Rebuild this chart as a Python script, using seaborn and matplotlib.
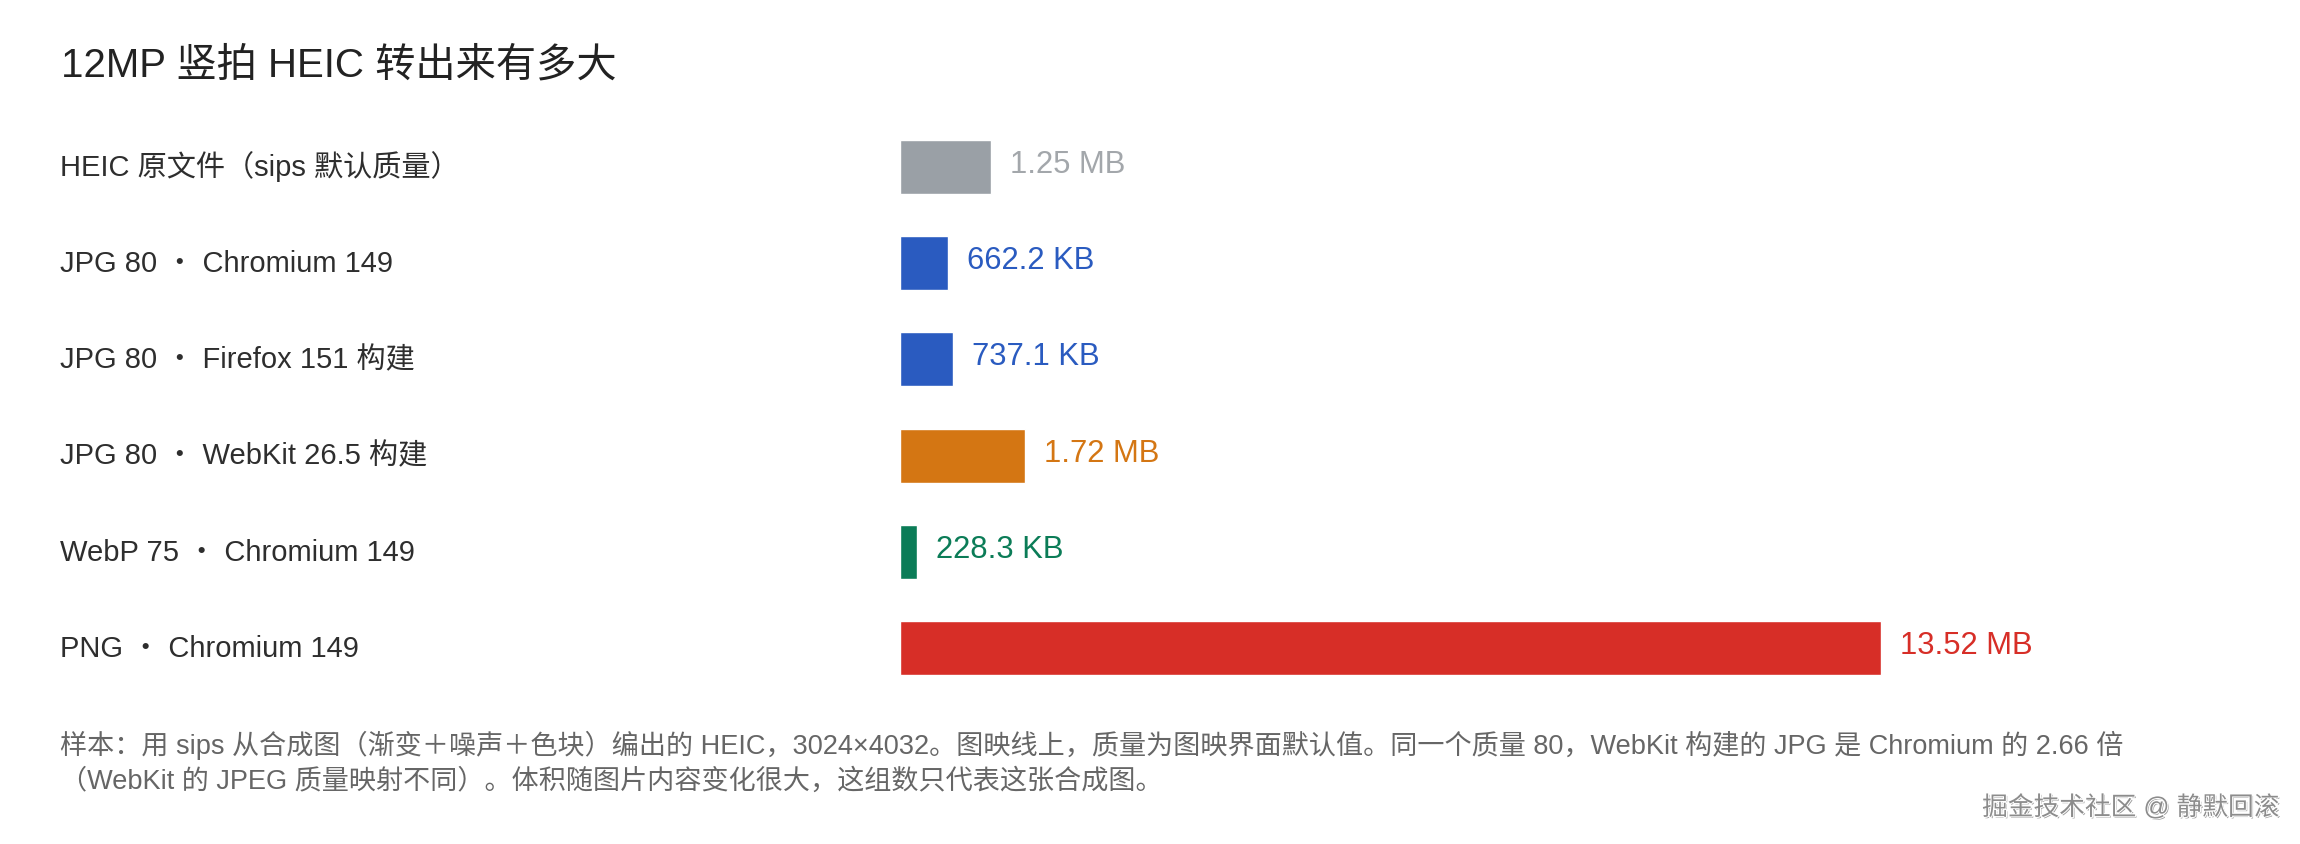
import matplotlib
matplotlib.use("Agg")
import matplotlib.pyplot as plt
import matplotlib.patheffects as pe
import seaborn as sns

# 数据
labels = [
    "HEIC 原文件（sips 默认质量）",
    "JPG 80 ・ Chromium 149",
    "JPG 80 ・ Firefox 151 构建",
    "JPG 80 ・ WebKit 26.5 构建",
    "WebP 75 ・ Chromium 149",
    "PNG ・ Chromium 149",
]
sizes_mb = [1.25, 0.6622, 0.7371, 1.72, 0.2283, 13.52]
size_text = ["1.25 MB", "662.2 KB", "737.1 KB", "1.72 MB", "228.3 KB", "13.52 MB"]
bar_colors = ["#9aa0a6", "#2a5bc0", "#2a5bc0", "#d47613", "#0b7c57", "#d72e27"]
text_colors = ["#a3a7ab", "#2a5bc0", "#2a5bc0", "#d47613", "#0b7c57", "#d72e27"]

title = "12MP 竖拍 HEIC 转出来有多大"
footnote_lines = [
    "样本：用 sips 从合成图（渐变＋噪声＋色块）编出的 HEIC，3024×4032。图映线上，质量为图映界面默认值。同一个质量 80，WebKit 构建的 JPG 是 Chromium 的 2.66 倍",
    "（WebKit 的 JPEG 质量映射不同）。体积随图片内容变化很大，这组数只代表这张合成图。",
]
watermark = "掘金技术社区 @ 静默回滚"

sns.set_theme(style="white")
# 拉丁字母用 Liberation Sans，中文回退到 Noto Sans CJK SC
plt.rcParams["font.family"] = ["Liberation Sans", "Noto Sans CJK SC", "DejaVu Sans"]

W, H, DPI = 2300, 844, 100
PT = 72 / DPI  # 1 px 对应的 pt
fig = plt.figure(figsize=(W / DPI, H / DPI), dpi=DPI)
fig.patch.set_facecolor("white")

# 轴的位置按像素算：左边 900px，宽 1300px，行中心 167..648
ax = fig.add_axes([900 / W, (H - 696) / H, 1300 / W, 577 / H])

sns.barplot(x=sizes_mb, y=labels, hue=labels, palette=bar_colors, legend=False,
            orient="h", width=0.56, saturation=1, ax=ax)

ax.set_xlim(0, 13.52 * 1300 / 981)
ax.set_ylim(len(labels) - 0.5, -0.5)
ax.set_axis_off()

# 左侧类别名
for i, lab in enumerate(labels):
    ax.annotate(lab, xy=(60 / W, i), xycoords=("figure fraction", "data"),
                xytext=(0, -9 * PT), textcoords="offset points",
                ha="left", va="baseline", fontsize=21, color="#2e2e2e")

# 数值
for i, (v, t) in enumerate(zip(sizes_mb, size_text)):
    ax.annotate(t, xy=(v, i), xytext=(19 * PT, -6 * PT), textcoords="offset points",
                ha="left", va="baseline", fontsize=22.3, color=text_colors[i])

fig.text(61 / W, 1 - 76 / H, title, ha="left", va="baseline",
         fontsize=29, color="#222222")

fig.text(60 / W, 1 - 754 / H, footnote_lines[0], ha="left", va="baseline",
         fontsize=19.5, color="#666666")
fig.text(60 / W, 1 - 789 / H, footnote_lines[1], ha="left", va="baseline",
         fontsize=19.5, color="#666666")

fig.text(2280 / W, 1 - 815 / H, watermark, ha="right", va="baseline",
         fontsize=18.5, color="#8c8c8c",
         path_effects=[pe.withSimplePatchShadow(offset=(1, -1), shadow_rgbFace="#555555", alpha=0.6),
                       pe.withStroke(linewidth=1.5, foreground="white")])

fig.savefig("out.png", dpi=DPI, facecolor="white")
